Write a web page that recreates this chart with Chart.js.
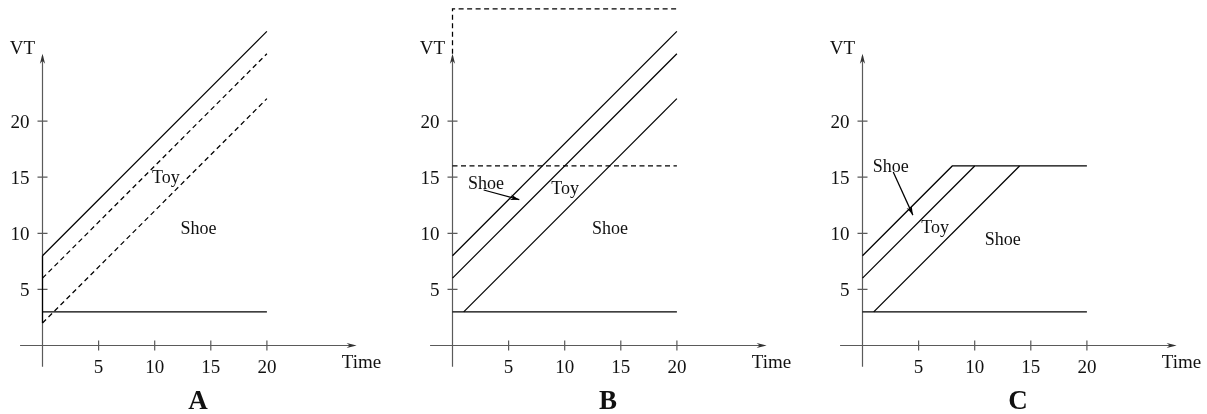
<!DOCTYPE html>
<html><head><meta charset="utf-8">
<script src="https://cdn.jsdelivr.net/npm/chart.js@4"></script>
<style>
html,body{margin:0;padding:0;background:#fff;width:1207px;height:414px;overflow:hidden}
canvas{position:absolute;top:0}
</style></head><body>
<canvas id="cA" width="387" height="414" style="left:0px"></canvas>
<canvas id="cB" width="387" height="414" style="left:410px"></canvas>
<canvas id="cC" width="387" height="414" style="left:820px"></canvas>
<script>
// ---- data ----
const timeTicks = [5, 10, 15, 20];
const vtTicks = [5, 10, 15, 20];
const xAxisTitle = 'Time';
const yAxisTitle = 'VT';
const axisXRange = [-2, 28];
const axisYRange = [-1.9, 26];

// Panel A
const aUpperSolid = [{x:0,y:8},{x:20,y:28}];
const aToyDashed  = [{x:0,y:6},{x:20,y:26}];
const aShoeDashed = [{x:0,y:2},{x:20,y:22}];
const aFloor      = [{x:0,y:3},{x:20,y:3}];
const aStartEdge  = [{x:0,y:2},{x:0,y:8}];
const aLabels = [{t:'Toy',x:11.0,y:14.45},{t:'Shoe',x:13.9,y:9.9}];

// Panel B
const bUpper   = [{x:0,y:8},{x:20,y:28}];
const bMiddle  = [{x:0,y:6},{x:20,y:26}];
const bLower   = [{x:1,y:3},{x:20,y:22}];
const bFloor   = [{x:0,y:3},{x:20,y:3}];
const bCapDashed = [{x:0,y:16},{x:20,y:16}];
const bBoxDashed = [{x:0,y:26},{x:0,y:30},{x:20,y:30}];
const bArrow   = [{x:2.78,y:13.86},{x:5.95,y:13.0}];
const bLabels = [{t:'Shoe',x:2.99,y:13.95},{t:'Toy',x:10.04,y:13.47},{t:'Shoe',x:14.03,y:9.91}];

// Panel C
const cUpper  = [{x:0,y:8},{x:8,y:16},{x:20,y:16}];
const cMiddle = [{x:0,y:6},{x:10,y:16}];
const cLower  = [{x:1,y:3},{x:14,y:16}];
const cFloor  = [{x:0,y:3},{x:20,y:3}];
const cArrow  = [{x:2.74,y:15.46},{x:4.49,y:11.62}];
const cLabels = [{t:'Shoe',x:2.51,y:15.49},{t:'Toy',x:6.48,y:10.0},{t:'Shoe',x:12.5,y:8.96}];

// ---- layout ----
const U = 11.22, OX = 42.5, OY = 345.5, W = 387, H = 414;
const XMIN = -2, XMAX = 28, YMIN = -2, YMAX = 30;
const SERIF = "'Liberation Serif','Times New Roman',serif";
const DASH = [5, 3.5];

function arrowHead(ctx, tx, ty, fx, fy, len, hw) {
  const dx = tx - fx, dy = ty - fy, d = Math.hypot(dx, dy);
  const ux = dx / d, uy = dy / d, px = -uy, py = ux;
  ctx.beginPath();
  ctx.moveTo(tx, ty);
  ctx.lineTo(tx - ux*len + px*hw, ty - uy*len + py*hw);
  ctx.lineTo(tx - ux*len*0.7, ty - uy*len*0.7);
  ctx.lineTo(tx - ux*len - px*hw, ty - uy*len - py*hw);
  ctx.closePath();
  ctx.fill();
}

const panelPlugin = {
  id: 'panelDeco',
  beforeDatasetsDraw(chart) {
    const {ctx, scales:{x, y}} = chart;
    const X = v => x.getPixelForValue(v), Y = v => y.getPixelForValue(v);
    ctx.save();
    ctx.strokeStyle = '#5a5a5a'; ctx.fillStyle = '#333'; ctx.lineWidth = 1.2;
    ctx.beginPath(); ctx.moveTo(X(axisXRange[0]), Y(0)); ctx.lineTo(X(axisXRange[1]) - 2, Y(0)); ctx.stroke();
    ctx.beginPath(); ctx.moveTo(X(0), Y(axisYRange[0])); ctx.lineTo(X(0), Y(axisYRange[1]) + 2); ctx.stroke();
    arrowHead(ctx, X(axisXRange[1]), Y(0), X(0), Y(0), 10, 2.6);
    arrowHead(ctx, X(0), Y(axisYRange[1]), X(0), Y(0), 10, 2.6);
    ctx.beginPath();
    timeTicks.forEach(v => { ctx.moveTo(X(v), Y(0) - 5); ctx.lineTo(X(v), Y(0) + 5); });
    vtTicks.forEach(v => { ctx.moveTo(X(0) - 5, Y(v)); ctx.lineTo(X(0) + 5, Y(v)); });
    ctx.stroke();
    ctx.restore();
  },
  afterDatasetsDraw(chart, args, opts) {
    const {ctx, scales:{x, y}} = chart;
    const X = v => x.getPixelForValue(v), Y = v => y.getPixelForValue(v);
    ctx.save();
    ctx.fillStyle = '#111';
    ctx.textBaseline = 'alphabetic';
    ctx.font = '19px ' + SERIF;
    ctx.textAlign = 'center';
    timeTicks.forEach(v => ctx.fillText(String(v), X(v), Y(0) + 27.5));
    ctx.textAlign = 'right';
    vtTicks.forEach(v => ctx.fillText(String(v), X(0) - 13, Y(v) + 6.5));
    ctx.textAlign = 'center';
    ctx.fillText(yAxisTitle, X(0) - 20, Y(0) - 291.5);
    ctx.fillText(xAxisTitle, X(0) + 319, Y(0) + 22.5);
    ctx.font = '18px ' + SERIF;
    (opts.labels || []).forEach(l => ctx.fillText(l.t, X(l.x), Y(l.y)));
    ctx.font = 'bold 27px ' + SERIF;
    ctx.fillText(opts.letter, X(0) + 155.5, Y(0) + 63.8);
    // pointer arrowheads
    ctx.fillStyle = '#000';
    chart.data.datasets.forEach(ds => {
      if (ds.pointer) {
        const n = ds.data.length, a = ds.data[n-2], b = ds.data[n-1];
        arrowHead(ctx, X(b.x), Y(b.y), X(a.x), Y(a.y), 9, 2.8);
      }
    });
    ctx.restore();
  }
};

function line(data, dashed, pointer) {
  return {data, borderColor:'#000', borderWidth:1.25, borderDash: dashed ? DASH : [],
          showLine:true, pointRadius:0, fill:false, tension:0, clip:false, pointer: !!pointer};
}

function makePanel(id, letter, datasets, labels) {
  new Chart(document.getElementById(id), {
    type: 'scatter',
    data: {datasets},
    options: {
      responsive:false, animation:false, events:[],
      layout: {padding: {left: OX - (0 - XMIN)*U, right: W - (OX + XMAX*U), top: OY - YMAX*U, bottom: H - (OY - YMIN*U)}},
      scales: {
        x: {type:'linear', min:XMIN, max:XMAX, display:false},
        y: {type:'linear', min:YMIN, max:YMAX, display:false}
      },
      plugins: {legend:{display:false}, tooltip:{enabled:false}, title:{display:false},
                panelDeco: {letter, labels}}
    },
    plugins: [panelPlugin]
  });
}

makePanel('cA', 'A', [line(aUpperSolid), line(aToyDashed, true), line(aShoeDashed, true), line(aFloor), line(aStartEdge)], aLabels);
makePanel('cB', 'B', [line(bUpper), line(bMiddle), line(bLower), line(bFloor), line(bCapDashed, true), line(bBoxDashed, true), line(bArrow, false, true)], bLabels);
makePanel('cC', 'C', [line(cUpper), line(cMiddle), line(cLower), line(cFloor), line(cArrow, false, true)], cLabels);
</script>
</body></html>
